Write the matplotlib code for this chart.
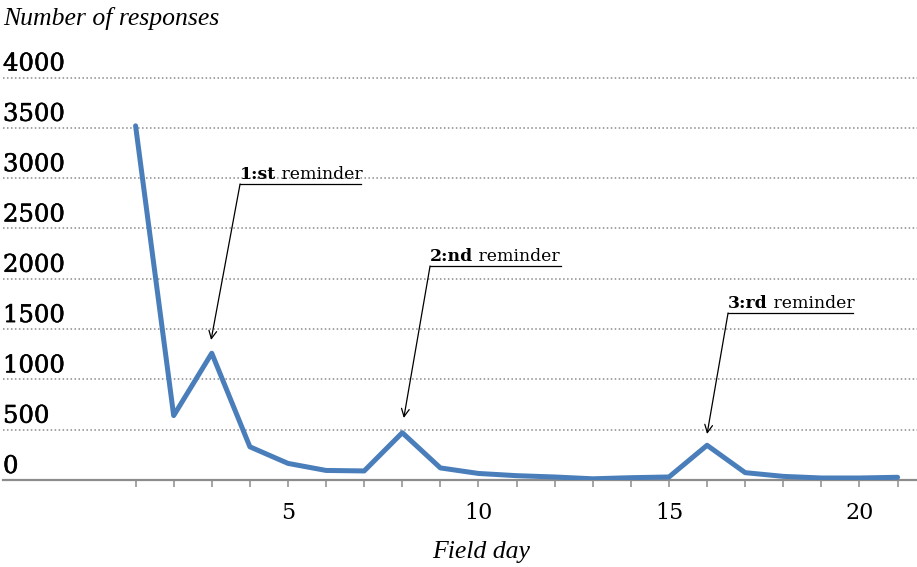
import matplotlib
matplotlib.use("Agg")
import matplotlib.pyplot as plt
import matplotlib.patheffects as pe

# responses per field day
days = list(range(1, 22))
responses = [3520, 640, 1260, 330, 165, 95, 90, 470, 120, 65, 43, 30, 12, 23, 30,
             345, 73, 36, 20, 20, 27]
y_ticks = [0, 500, 1000, 1500, 2000, 2500, 3000, 3500, 4000]
x_labels = [5, 10, 15, 20]
reminder_days = [3, 8, 16]
reminder_tags = ['1:st', '2:nd', '3:rd']

W, H = 917, 567
fig = plt.figure(figsize=(W / 100, H / 100), dpi=100)

# axes placement in pixels
px_left, px_right = 3, 917
px_zero, px_top = 480, 72.5
ax = fig.add_axes([px_left / W, 1 - px_zero / H,
                   (px_right - px_left) / W, (px_zero - px_top) / H])
ax.set_xlim(-2.48, 21.51)
ax.set_ylim(0, 4050)

for s in ['top', 'right', 'left']:
    ax.spines[s].set_visible(False)
ax.spines['bottom'].set_color('#8c8c8c')
ax.spines['bottom'].set_linewidth(1.6)

# dotted gridlines + labels sitting above them
for v in y_ticks:
    if v > 0:
        ax.axhline(v, color='#8a8a8a', lw=1.1, ls=(0, (1, 1.6)), zorder=1)
    ax.annotate(str(v), xy=(0, v), xycoords=('axes fraction', 'data'),
                xytext=(0, 7), textcoords='offset pixels',
                ha='left', va='baseline', fontsize=17.5,
                family='DejaVu Serif', color='black',
                path_effects=[pe.withStroke(linewidth=0.4, foreground='black')])
ax.set_yticks([])

ax.set_xticks(days)
ax.set_xticklabels([str(d) if d in x_labels else '' for d in days],
                   family='DejaVu Serif', fontsize=16)
ax.tick_params(axis='x', length=5, width=1.1, color='#8c8c8c', pad=11)

ax.plot(days, responses, color='#4a7ebb', lw=3.6, solid_joinstyle='round',
        solid_capstyle='round', zorder=3)


def px2data(px, py):
    return (px - 97.4) / 38.1, (px_zero - py) / 0.1006


# (underline start x, underline end x, underline y) and arrow tips, in pixels
label_boxes = [(240, 361, 184), (430, 561, 266), (728, 853, 313)]
tips = [(211, 340), (403.7, 418), (707, 434)]

for tag, d, box, tip in zip(reminder_tags, reminder_days, label_boxes, tips):
    x0, y0 = px2data(box[0], box[2])
    x1, _ = px2data(box[1], box[2])
    tx, ty = px2data(tip[0], tip[1])
    _, base = px2data(0, box[2] - 5)
    t1 = ax.text(x0, base, tag, fontsize=12.4, family='DejaVu Serif',
                 weight='bold', ha='left', va='baseline')
    ax.annotate(' reminder', xy=(1, 0), xycoords=t1, ha='left', va='bottom',
                fontsize=12.4, family='DejaVu Serif')
    ax.plot([x0, x1], [y0, y0], color='black', lw=0.9, zorder=4)
    ax.annotate('', xy=(tx, ty), xytext=(x0, y0),
                arrowprops=dict(arrowstyle='->', lw=0.9, color='black',
                                shrinkA=0, shrinkB=0, mutation_scale=14))

fig.text(3 / W, 1 - 25 / H, 'Number of responses', family='Liberation Serif',
         style='italic', fontsize=18.5, ha='left', va='baseline')
fig.text(481 / W, 1 - 558 / H, 'Field day', family='Liberation Serif',
         style='italic', fontsize=18.5, ha='center', va='baseline')

fig.savefig('out.png', dpi=100)
